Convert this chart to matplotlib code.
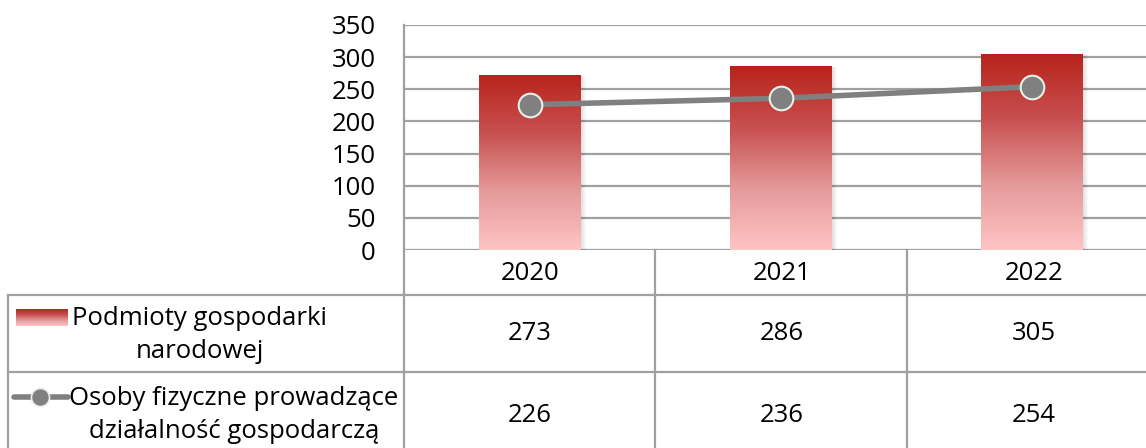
import matplotlib.pyplot as plt
import numpy as np
from matplotlib.colors import LinearSegmentedColormap
from matplotlib.patches import Rectangle

years = ["2020", "2021", "2022"]
podmioty = [273, 286, 305]
osoby = [226, 236, 254]
series_names = ["Podmioty gospodarki\nnarodowej", "Osoby fizyczne prowadzące\ndziałalność gospodarczą"]
yticks = [0, 50, 100, 150, 200, 250, 300, 350]

plt.rcParams['font.family'] = ['Open Sans', 'DejaVu Sans']
FS = 18.5
W, H = 1146, 448
grid_c = '#a0a0a0'

fig = plt.figure(figsize=(W / 100, H / 100), dpi=100)

# main plot area (extends slightly past the right edge like the original)
ax = fig.add_axes([404 / W, (H - 250) / H, (1158 - 404) / W, (250 - 25) / H])
ax.set_xlim(0, 3)
ax.set_ylim(0, 350)
ax.set_yticks(yticks)
ax.set_yticklabels([str(v) for v in yticks], fontsize=FS, va='center_baseline')
ax.tick_params(axis='y', length=0, pad=20.5)
ax.set_xticks([])
for s in ax.spines.values():
    s.set_visible(False)
for v in yticks:
    ax.axhline(v, color=grid_c, lw=1.6, zorder=1)

cmap = LinearSegmentedColormap.from_list('bar', ['#ffc4c4', '#e59a9a', '#c85050', '#b8231b'])
grad = np.linspace(0, 1, 256).reshape(-1, 1)
bw = 0.405
for i, v in enumerate(podmioty):
    x0 = i + 0.5 - bw / 2
    # soft shadow
    for k in range(6):
        ax.add_patch(Rectangle((x0 + 0.004 * k, -2), bw, v, color='black',
                               alpha=0.025, lw=0, zorder=2))
    im = ax.imshow(grad, cmap=cmap, origin='lower', aspect='auto',
                   extent=(x0, x0 + bw, 0, v), zorder=3)
    rect = Rectangle((x0, 0), bw, v, transform=ax.transData, visible=False)
    ax.add_patch(rect)
    im.set_clip_path(rect)

xc = np.arange(len(years)) + 0.5
ax.plot(xc, osoby, color='#808080', lw=4, zorder=4, solid_capstyle='round')
ax.plot(xc, osoby, 'o', ms=17, mfc='#808080', mec='#e8efe8', mew=1.5, zorder=5)

# data table overlay in pixel coordinates
tb = fig.add_axes([0, 0, 1, 1])
tb.set_xlim(0, W)
tb.set_ylim(H, 0)
tb.axis('off')
lw = 1.6
tb.plot([404, 404], [25, H], color=grid_c, lw=lw)
tb.plot([8, W], [295, 295], color=grid_c, lw=lw)
tb.plot([8, W], [372, 372], color=grid_c, lw=lw)
tb.plot([8, 8], [295, H], color=grid_c, lw=lw)
for xb in [655, 907]:
    tb.plot([xb, xb], [250, H], color=grid_c, lw=lw)

centers = [530, 782, 1034]
for c, y in zip(centers, years):
    tb.text(c, 273, y, ha='center', va='center', fontsize=FS)
for c, a, b in zip(centers, podmioty, osoby):
    tb.text(c, 334, str(a), ha='center', va='center', fontsize=FS)
    tb.text(c, 415, str(b), ha='center', va='center', fontsize=FS)

# legend keys
kg = np.linspace(1, 0, 64).reshape(-1, 1)
tb.imshow(kg, cmap=cmap, aspect='auto', extent=(16, 68, 326, 309), zorder=3)
tb.set_xlim(0, W)
tb.set_ylim(H, 0)
tb.plot([14, 68], [397, 397], color='#808080', lw=4, solid_capstyle='round')
tb.plot([40], [397], 'o', ms=13, mfc='#808080', mec='#e8efe8', mew=1.2)

tb.text(200, 335, series_names[0], ha='center', va='center', fontsize=FS,
        multialignment='center', linespacing=1.4)
tb.text(234, 415, series_names[1], ha='center', va='center', fontsize=FS,
        multialignment='center', linespacing=1.4)

fig.savefig('out.png', dpi=100)
